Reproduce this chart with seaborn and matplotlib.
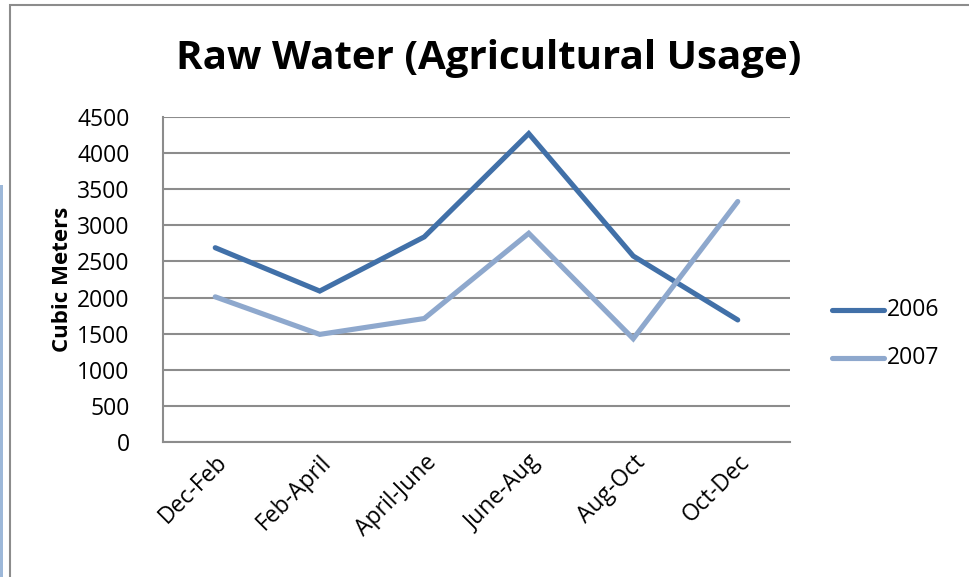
import matplotlib
matplotlib.use("Agg")
import matplotlib.pyplot as plt
import seaborn as sns
import pandas as pd
from matplotlib.patches import Rectangle

periods = ["Dec-Feb", "Feb-April", "April-June", "June-Aug", "Aug-Oct", "Oct-Dec"]
usage_2006 = [2690, 2090, 2840, 4270, 2575, 1690]
usage_2007 = [2010, 1490, 1710, 2890, 1430, 3330]
years = ["2006", "2007"]
y_ticks = [0, 500, 1000, 1500, 2000, 2500, 3000, 3500, 4000, 4500]

df = pd.DataFrame({
    "period": periods * 2,
    "usage": usage_2006 + usage_2007,
    "year": [years[0]] * len(periods) + [years[1]] * len(periods),
})
df["pos"] = df["period"].map({p: i for i, p in enumerate(periods)})

sns.set_theme(style="white")
plt.rcParams["font.family"] = ["Open Sans", "DejaVu Sans"]
plt.rcParams["text.color"] = "black"

W, H = 969, 577
fig = plt.figure(figsize=(W / 100, H / 100), dpi=100)

# chart frame
fig.patches.append(Rectangle((10 / W, -0.01), 1.0, (H - 5) / H + 0.01,
                             transform=fig.transFigure, fill=False,
                             edgecolor="#8c8c8c", linewidth=1.5))
fig.patches.append(Rectangle((0, 0), 3 / W, (H - 185) / H,
                             transform=fig.transFigure, facecolor="#9db8d9",
                             edgecolor="none"))

ax = fig.add_axes([163 / W, (H - 442) / H, 627 / W, 325 / H])
palette = {"2006": "#4170a8", "2007": "#8ea8cd"}
sns.lineplot(data=df, x="pos", y="usage", hue="year", palette=palette,
             linewidth=3.7, ax=ax, legend=False, sort=False,
             solid_capstyle="round", solid_joinstyle="miter")

ax.set_xlim(-0.5, len(periods) - 0.5)
ax.set_ylim(0, 4500)
ax.set_yticks(y_ticks)
ax.set_xticks(range(len(periods)))
ax.set_xticklabels(periods, rotation=45, ha="right", va="top",
                   rotation_mode="anchor")
ax.tick_params(axis="y", length=0, pad=24, labelsize=16.5, colors="black")
ax.tick_params(axis="x", length=0, pad=6, labelsize=16.5, colors="black")
ax.grid(axis="y", color="#8c8c8c", linewidth=1.5)
ax.set_axisbelow(True)
for side in ["top", "right"]:
    ax.spines[side].set_visible(False)
for side in ["left", "bottom"]:
    ax.spines[side].set_color("#8c8c8c")
    ax.spines[side].set_linewidth(1.5)
ax.set_xlabel("")
ax.set_ylabel("Cubic Meters", fontsize=16, fontweight="bold", color="black")
ax.yaxis.set_label_coords(-90 / 627, 0.5)

fig.text(489 / W, 1 - 58 / H, "Raw Water (Agricultural Usage)",
         ha="center", va="center", fontsize=29, fontweight="bold",
         color="black")

# legend
for i, yr in enumerate(years):
    yy = 1 - (310 + 48 * i) / H
    fig.add_artist(plt.Line2D([832 / W, 884 / W], [yy, yy],
                              transform=fig.transFigure, color=palette[yr],
                              linewidth=3.7, solid_capstyle="round"))
    fig.text(887 / W, yy, yr, ha="left", va="center", fontsize=16.5,
             color="black")

fig.savefig("out.png", dpi=100)
